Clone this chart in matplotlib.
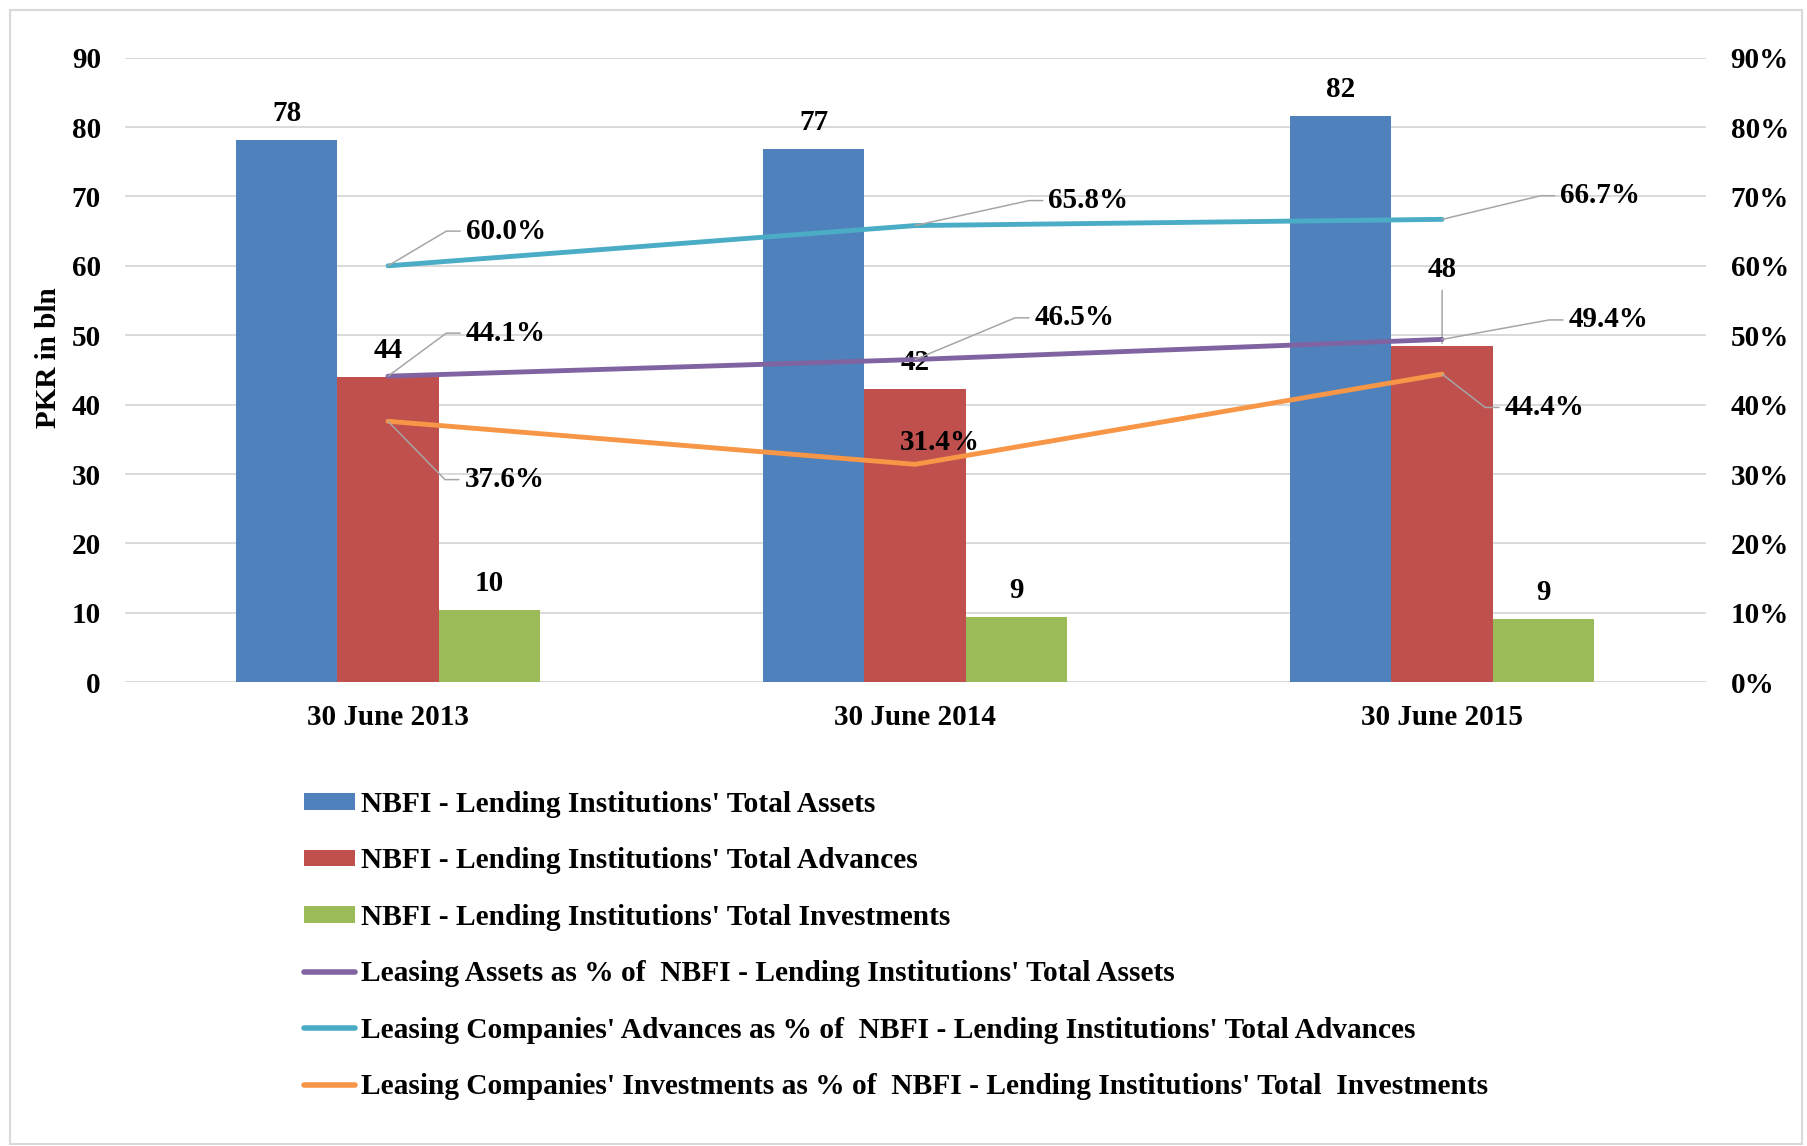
import math
import matplotlib
matplotlib.use("Agg")
import matplotlib.pyplot as plt
from matplotlib.patches import Rectangle

# data
categories = ['30 June 2013', '30 June 2014', '30 June 2015']
total_assets = [78.2, 76.8, 81.6]
total_advances = [44.0, 42.2, 48.4]
total_investments = [10.4, 9.4, 9.1]
leasing_assets_pct = [44.1, 46.5, 49.4]
leasing_advances_pct = [60.0, 65.8, 66.7]
leasing_investments_pct = [37.6, 31.4, 44.4]

bar_labels = ["NBFI - Lending Institutions' Total Assets",
              "NBFI - Lending Institutions' Total Advances",
              "NBFI - Lending Institutions' Total Investments"]
line_labels = ["Leasing Assets as % of  NBFI - Lending Institutions' Total Assets",
               "Leasing Companies' Advances as % of  NBFI - Lending Institutions' Total Advances",
               "Leasing Companies' Investments as % of  NBFI - Lending Institutions' Total  Investments"]

plt.rcParams['font.family'] = ['Liberation Serif', 'DejaVu Serif']
plt.rcParams['font.weight'] = 'bold'
plt.rcParams['axes.labelweight'] = 'bold'
FS = 21
GRID = '#D9D9D9'
LEAD = '#A6A6A6'

fig = plt.figure(figsize=(18.07, 11.46), dpi=100)
ax = fig.add_axes([0.0689, 0.4047, 0.8750, 0.5450])
ax2 = ax.twinx()

x = list(range(len(categories)))
w = 0.1926
bar_colors = ['#4F81BD', '#C0504D', '#9BBB59']
bars = []
for k, (vals, col, lab) in enumerate(zip([total_assets, total_advances, total_investments], bar_colors, bar_labels)):
    b = ax.bar([i + (k - 1) * w for i in x], vals, w, color=col, label=lab, zorder=2)
    bars.append(b)

ax.set_xlim(-0.5, 2.5)
ax.set_ylim(0, 90)
ax.set_yticks(range(0, 91, 10))
ax.set_axisbelow(True)
ax.yaxis.grid(True, color=GRID, lw=1.4)
ax.set_xticks(x)
ax.set_xticklabels(categories)
ax.tick_params(axis='both', length=0, labelsize=FS)
ax.tick_params(axis='x', pad=16)
ax.tick_params(axis='y', pad=17)
ax.set_ylabel('PKR in bln', fontsize=FS, fontweight='bold')
ax.yaxis.set_label_coords(-0.0395, 0.52)
for s in ax.spines.values():
    s.set_visible(False)

line_colors = ['#8064A2', '#4BACC6', '#F79646']
lines = []
for vals, col, lab in zip([leasing_assets_pct, leasing_advances_pct, leasing_investments_pct], line_colors, line_labels):
    l, = ax2.plot(x, vals, color=col, lw=3.5, solid_capstyle='round', solid_joinstyle='round', label=lab, zorder=3)
    lines.append(l)
ax2.set_ylim(0, 90)
ax2.set_yticks(range(0, 91, 10))
ax2.set_yticklabels([f'{t}%' for t in range(0, 91, 10)])
ax2.tick_params(axis='y', length=0, labelsize=FS, pad=18)
for s in ax2.spines.values():
    s.set_visible(False)

# bar value labels (offsets in points)
bar_offsets = [[19, 19, 19], [19, 19, 55], [19, 19, 19]]
for k, vals in enumerate([total_assets, total_advances, total_investments]):
    for i, v in enumerate(vals):
        dy = bar_offsets[k][i]
        ap = None
        if dy > 30:
            ap = dict(arrowstyle='-', color=LEAD, lw=1.1, shrinkA=3, shrinkB=2, relpos=(0.5, 0))
        ax.annotate(f'{v:.0f}', (i + (k - 1) * w, v), xytext=(0, dy), textcoords='offset points',
                    ha='center', va='center', fontsize=FS, arrowprops=ap, zorder=5)

# percentage labels: offset of text left edge (points), with leader lines
pct_offsets = [
    [(56, 31), (86, 30), (91, 14)],      # leasing assets
    [(56, 25), (96, 18), (85, 17)],      # leasing advances
    [(55, -42), (None, 16), (45, -24)],  # leasing investments
]
for vals, offs in zip([leasing_assets_pct, leasing_advances_pct, leasing_investments_pct], pct_offsets):
    for i, (v, (dx, dy)) in enumerate(zip(vals, offs)):
        txt = f'{v:.1f}%'
        if dx is None:
            ax2.annotate(txt, (i, v), xytext=(18, dy), textcoords='offset points',
                         ha='center', va='center', fontsize=FS, zorder=6)
            continue
        ang = math.degrees(math.atan2(dy, dx - 14))
        ax2.annotate(txt, (i, v), xytext=(dx, dy), textcoords='offset points',
                     ha='left', va='center', fontsize=FS, zorder=6,
                     arrowprops=dict(arrowstyle='-', color=LEAD, lw=1.1, shrinkA=2, shrinkB=0,
                                     relpos=(0, 0.5),
                                     connectionstyle=f'angle,angleA=0,angleB={ang},rad=0'))

leg = fig.legend(bars + lines, bar_labels + line_labels, loc='upper left',
                 bbox_to_anchor=(304 / 1807, 1 - 791 / 1146), frameon=False,
                 prop={'size': 21.2, 'weight': 'bold'},
                 borderpad=0, borderaxespad=0, handlelength=1.74, handleheight=0.5,
                 handletextpad=0.2, labelspacing=1.0)
for h in leg.legend_handles[3:]:
    h.set_linewidth(4)
    h.set_solid_capstyle('round')

fig.patches.append(Rectangle((10 / 1807, 2 / 1146), 1792 / 1807, 1134 / 1146, transform=fig.transFigure,
                             fill=False, edgecolor=GRID, lw=1.5))

fig.savefig('out.png', dpi=100)
